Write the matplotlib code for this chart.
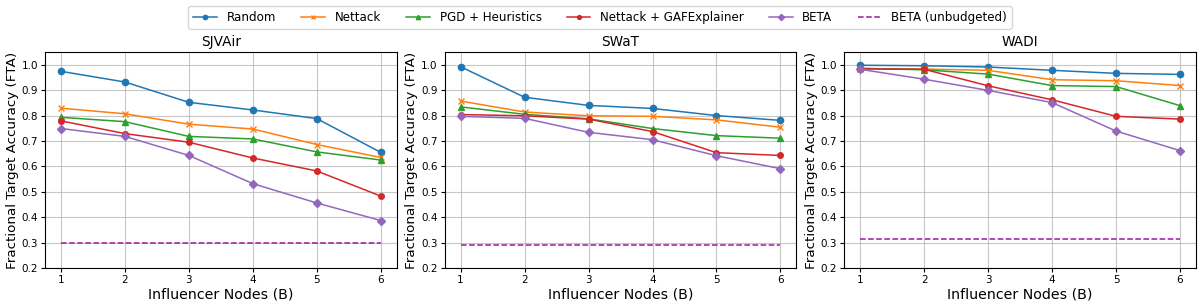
import numpy as np
import matplotlib
matplotlib.use("Agg")
import matplotlib.pyplot as plt

budgets = [1, 2, 3, 4, 5, 6]
datasets = ["SJVAir", "SWaT", "WADI"]
methods = ["Random", "Nettack", "PGD + Heuristics", "Nettack + GAFExplainer", "BETA"]

# FTA per method, one list per dataset
sjvair_random = [0.974, 0.932, 0.852, 0.822, 0.788, 0.655]
sjvair_nettack = [0.829, 0.807, 0.766, 0.747, 0.686, 0.635]
sjvair_pgd = [0.793, 0.776, 0.718, 0.708, 0.657, 0.625]
sjvair_gaf = [0.779, 0.729, 0.695, 0.633, 0.582, 0.483]
sjvair_beta = [0.749, 0.718, 0.643, 0.532, 0.456, 0.387]
sjvair_unbudgeted = 0.300

swat_random = [0.992, 0.872, 0.840, 0.828, 0.800, 0.781]
swat_nettack = [0.857, 0.814, 0.799, 0.797, 0.783, 0.754]
swat_pgd = [0.834, 0.805, 0.787, 0.749, 0.721, 0.711]
swat_gaf = [0.804, 0.799, 0.786, 0.737, 0.654, 0.643]
swat_beta = [0.797, 0.789, 0.734, 0.705, 0.642, 0.591]
swat_unbudgeted = 0.291

wadi_random = [0.998, 0.996, 0.991, 0.978, 0.966, 0.962]
wadi_nettack = [0.984, 0.983, 0.978, 0.941, 0.937, 0.918]
wadi_pgd = [0.986, 0.980, 0.963, 0.918, 0.914, 0.839]
wadi_gaf = [0.984, 0.982, 0.917, 0.862, 0.797, 0.786]
wadi_beta = [0.982, 0.943, 0.899, 0.851, 0.739, 0.662]
wadi_unbudgeted = 0.315

results = {
    "SJVAir": [sjvair_random, sjvair_nettack, sjvair_pgd, sjvair_gaf, sjvair_beta],
    "SWaT": [swat_random, swat_nettack, swat_pgd, swat_gaf, swat_beta],
    "WADI": [wadi_random, wadi_nettack, wadi_pgd, wadi_gaf, wadi_beta],
}
unbudgeted = {"SJVAir": sjvair_unbudgeted, "SWaT": swat_unbudgeted, "WADI": wadi_unbudgeted}

colors = ["tab:blue", "tab:orange", "tab:green", "tab:red", "tab:purple"]
markers = ["o", "x", "^", "o", "D"]
msizes = [4.5, 4.5, 4.5, 4, 4.5]

fig, axes = plt.subplots(1, 3, figsize=(12, 3.06), dpi=100)

for ax, name in zip(axes, datasets):
    for vals, lab, c, m, ms in zip(results[name], methods, colors, markers, msizes):
        ax.plot(budgets, vals, color=c, marker=m, markersize=ms, linewidth=1.1, label=lab)
    ax.plot(budgets, [unbudgeted[name]] * len(budgets), color="#9a1aa0", linestyle="--",
            linewidth=1.1, label="BETA (unbudgeted)")
    ax.set_title(name, fontsize=9.8, pad=4)
    ax.set_xlabel("Influencer Nodes (B)", fontsize=10.2, labelpad=2)
    ax.set_ylabel("Fractional Target Accuracy (FTA)", fontsize=9.7, labelpad=2)
    ax.set_ylim(0.2, 1.05)
    ax.set_xticks(budgets)
    ax.set_yticks(np.arange(0.2, 1.01, 0.1))
    ax.tick_params(labelsize=7.5, length=3, pad=2)
    ax.grid(True, alpha=0.7)

handles, labels = axes[0].get_legend_handles_labels()
fig.legend(handles, labels, loc="upper center", ncol=6, fontsize=8.6, markerscale=0.7,
           bbox_to_anchor=(0.5, 1.0), frameon=True, columnspacing=2.1)

plt.subplots_adjust(left=0.0375, right=0.9967, top=0.83, bottom=0.124, wspace=0.136)
plt.savefig("out.png", dpi=100)
